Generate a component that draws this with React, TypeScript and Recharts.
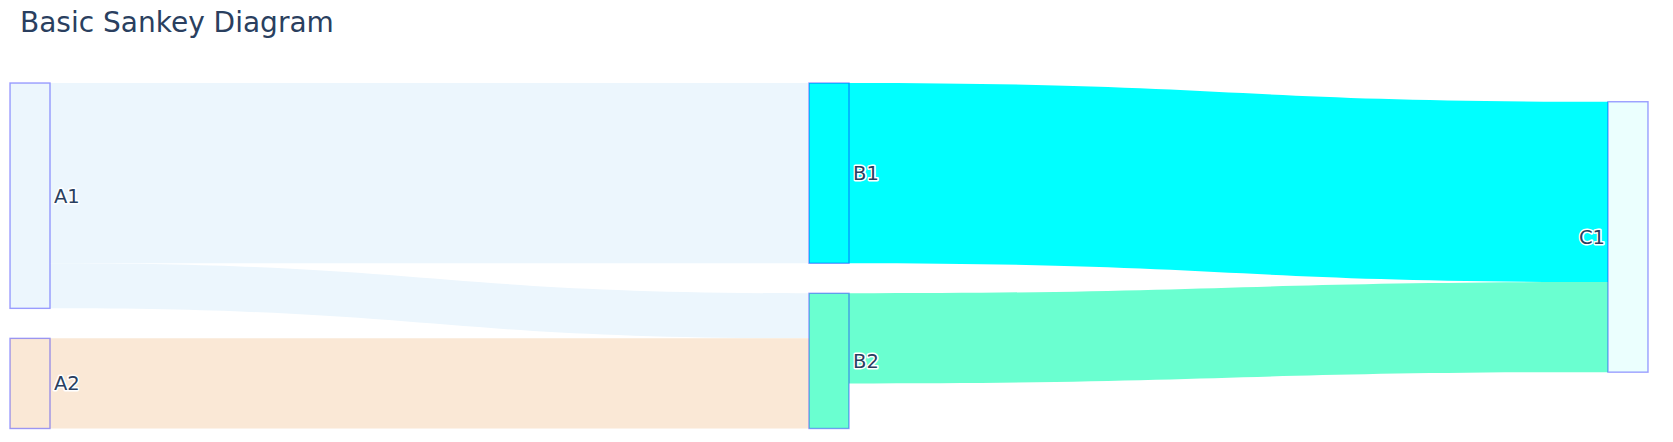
import { Sankey } from "recharts";

const nodeLabels = ["A1", "A2", "B1", "B2", "C1"];
const nodeColors = ["#ecf6fd", "#fae8d6", "#00ffff", "#6affd0", "#ebfffe"];

const linkSources = [0, 0, 1, 2, 3];
const linkTargets = [2, 3, 3, 4, 4];
const linkValues = [8, 2, 4, 8, 4];

const chartData = {
  nodes: nodeLabels.map((name, i) => ({ name, color: nodeColors[i] })),
  links: linkSources.map((s, i) => ({
    source: s,
    target: linkTargets[i],
    value: linkValues[i],
    color: nodeColors[s]
  }))
};

// nodes with no outgoing link sit in the last column
const lastColumn = nodeLabels.map((_, i) => !linkSources.includes(i));

const textColor = "#2a3f5f";
const font = "'DejaVu Sans', Verdana, sans-serif";

function SankeyNode(props: any) {
  const { x, y, width, height, index, payload } = props;
  const onRight = !lastColumn[index];
  return (
    <g>
      <rect
        x={x}
        y={y}
        width={width}
        height={height}
        fill={payload.color}
        stroke="rgba(0,0,255,0.38)"
        strokeWidth={1.4}
      />
      <text
        x={onRight ? x + width + 4 : x - 3}
        y={y + height / 2}
        dy="0.36em"
        textAnchor={onRight ? "start" : "end"}
        fontFamily={font}
        fontSize={19.5}
        fill={textColor}
        stroke="#fff"
        strokeWidth={3}
        strokeLinejoin="round"
        paintOrder="stroke"
      >
        {payload.name}
      </text>
    </g>
  );
}

function SankeyLink(props: any) {
  const { sourceX, targetX, sourceY, targetY, sourceControlX, targetControlX, linkWidth, payload } = props;
  const y0 = sourceY - linkWidth / 2;
  const y1 = targetY - linkWidth / 2;
  const w = linkWidth;
  const d =
    `M${sourceX},${y0} C${sourceControlX},${y0} ${targetControlX},${y1} ${targetX},${y1}` +
    ` L${targetX},${y1 + w} C${targetControlX},${y1 + w} ${sourceControlX},${y0 + w} ${sourceX},${y0 + w} Z`;
  return <path d={d} fill={payload.color} stroke="none" />;
}

export default function App() {
  return (
    <div style={{ position: "absolute", left: 0, top: 0, width: 1673, height: 442, background: "#fff" }}>
      <div
        style={{
          position: "absolute",
          left: 20,
          top: 6,
          fontFamily: font,
          fontSize: 28,
          color: textColor,
          whiteSpace: "nowrap"
        }}
      >
        Basic Sankey Diagram
      </div>
      <Sankey
        width={1673}
        height={442}
        data={chartData}
        nodeWidth={40}
        nodePadding={30}
        linkCurvature={0.5}
        iterations={32}
        margin={{ top: 83, right: 25, bottom: 13.5, left: 10 }}
        node={(p: any) => <SankeyNode {...p} />}
        link={(p: any) => <SankeyLink {...p} />}
      />
    </div>
  );
}
